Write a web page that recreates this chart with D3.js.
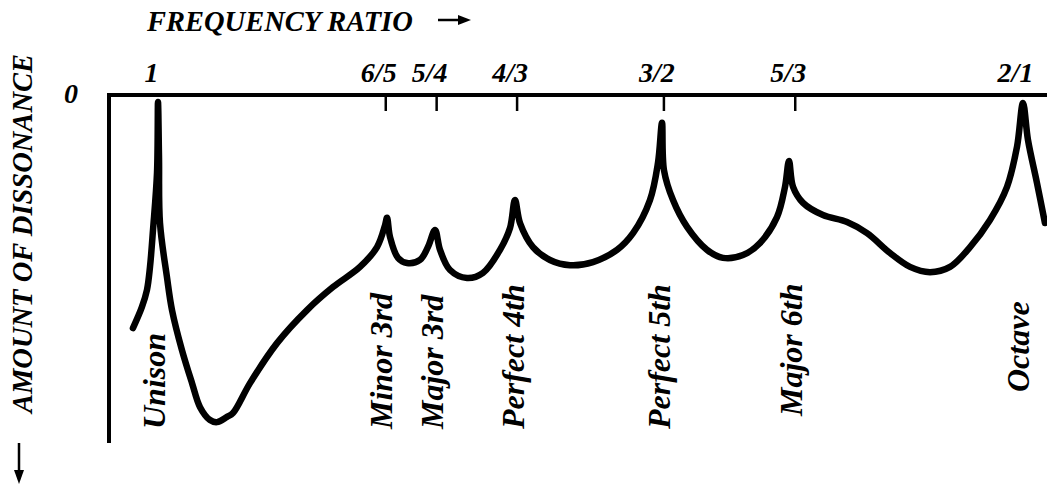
<!DOCTYPE html>
<html>
<head>
<meta charset="utf-8">
<script src="https://cdn.jsdelivr.net/npm/d3@7"></script>
</head>
<body style="margin:0;padding:0;background:#fff">
<svg id="chart" width="1047" height="496" style="display:block;background:#fff"></svg>
<script>
// ---- data ----
const tickRatios = [1, 6/5, 5/4, 4/3, 3/2, 5/3, 2];
const tickLabels = ["1", "6/5", "5/4", "4/3", "3/2", "5/3", "2/1"];
const intervalNames = ["Unison", "Minor 3rd", "Major 3rd", "Perfect 4th", "Perfect 5th", "Major 6th", "Octave"];
const intervalRatios = [1, 6/5, 5/4, 4/3, 3/2, 5/3, 2];

// frequency ratio along the drawn curve
const curveRatio = [
  0.9801, 0.9872, 0.9912, 0.9936, 0.9960, 0.9992, 1.0000, 1.0008, 1.0016, 1.0072,
  1.0113, 1.0194, 1.0277, 1.0343, 1.0426, 1.0485, 1.0569, 1.0620, 1.0766, 1.1002,
  1.1270, 1.1507, 1.1759, 1.1921, 1.1998, 1.2017, 1.2046, 1.2123, 1.2211, 1.2339,
  1.2418, 1.2489, 1.2539, 1.2640, 1.2813, 1.2979, 1.3157, 1.3263, 1.3316, 1.3370,
  1.3510, 1.3695, 1.3917, 1.4176, 1.4452, 1.4639, 1.4839, 1.4935, 1.4983, 1.5007,
  1.5116, 1.5287, 1.5534, 1.5734, 1.5989, 1.6209, 1.6431, 1.6537, 1.6590, 1.6644,
  1.6778, 1.7049, 1.7381, 1.7662, 1.7991, 1.8282, 1.8577, 1.8878, 1.9183, 1.9493,
  1.9761, 1.9920, 2.0016, 2.0096, 2.0242, 2.0372
];
// amount of dissonance (0 = axis, grows downward)
const curveDissonance = [
  67.0, 60.9, 56.0, 49.4, 38.8, 22.4, 2.0, 17.8, 36.8, 52.3,
  61.8, 73.3, 82.8, 89.7, 93.4, 94.0, 92.5, 91.4, 82.8, 71.3,
  61.8, 55.2, 49.4, 43.7, 37.4, 35.3, 40.8, 46.8, 48.3, 47.4,
  43.7, 38.8, 44.5, 50.3, 52.6, 51.1, 44.5, 38.2, 30.2, 36.8,
  43.7, 47.4, 48.9, 48.0, 44.5, 39.7, 30.2, 19.5, 8.0, 21.6,
  30.2, 37.9, 44.5, 46.8, 46.0, 42.5, 35.1, 26.4, 19.0, 26.4,
  31.0, 34.5, 36.5, 39.7, 45.4, 49.4, 50.9, 49.4, 43.7, 35.9,
  26.4, 14.9, 2.3, 12.9, 25.3, 36.8
];

// ---- layout ----
const FONT = '"Liberation Serif", "Times New Roman", Times, serif';
const svg = d3.select("#chart")
  .attr("font-family", FONT).attr("font-weight", "bold").attr("font-style", "italic");
const x = d3.scaleLog().domain([1, 2]).range([158, 1022]);
const y = d3.scaleLinear().domain([0, 100]).range([95, 443]);
const axisLeftX = 109;

function styleText(sel, size) {
  return sel.attr("font-family", FONT).attr("font-weight", "bold")
    .attr("font-style", "italic").attr("font-size", size).attr("fill", "#000");
}

// axes lines
svg.append("line").attr("x1", axisLeftX - 2).attr("x2", 1047)
  .attr("y1", y(0)).attr("y2", y(0)).attr("stroke", "#000").attr("stroke-width", 4);
svg.append("line").attr("x1", axisLeftX).attr("x2", axisLeftX)
  .attr("y1", y(0)).attr("y2", y(100)).attr("stroke", "#000").attr("stroke-width", 4);

// ticks + labels via d3 axis
const axis = d3.axisTop(x)
  .tickValues(tickRatios)
  .tickFormat((d, i) => tickLabels[i])
  .tickSizeInner(-16)
  .tickSizeOuter(0)
  .tickPadding(13);
const gAxis = svg.append("g").attr("transform", `translate(0,${y(0)})`).call(axis);
gAxis.attr("font-family", FONT).attr("font-size", 28);
gAxis.select(".domain").remove();
gAxis.selectAll(".tick line")
  .attr("stroke", "#000").attr("stroke-width", 2.5)
  .attr("y1", 2)
  .style("display", (d, i) => (i === 0 || i === tickRatios.length - 1) ? "none" : null);
styleText(gAxis.selectAll(".tick text"), 28).attr("dx", -7);

// "0" label on the dissonance axis
styleText(svg.append("text"), 28).attr("x", 71).attr("y", y(0) + 8)
  .attr("text-anchor", "middle").text("0");

// axis titles
styleText(svg.append("text"), 28.5).attr("x", 147).attr("y", 31).text("FREQUENCY RATIO");
svg.append("line").attr("x1", 438).attr("x2", 462).attr("y1", 20).attr("y2", 20)
  .attr("stroke", "#000").attr("stroke-width", 2.5);
svg.append("path").attr("d", "M458,15 L471,20 L458,25 Z").attr("fill", "#000");

styleText(svg.append("text"), 28.5).attr("transform", "translate(32,413) rotate(-90)")
  .text("AMOUNT OF DISSONANCE");
svg.append("line").attr("x1", 19).attr("x2", 19).attr("y1", 443).attr("y2", 474)
  .attr("stroke", "#000").attr("stroke-width", 2.5);
svg.append("path").attr("d", "M14,470 L19,484 L24,470 Z").attr("fill", "#000");

// dissonance curve
const pts = curveRatio.map((r, i) => [r, curveDissonance[i]]);
const line = d3.line().x(d => x(d[0])).y(d => y(d[1])).curve(d3.curveCatmullRom.alpha(0.5));
svg.append("path").attr("d", line(pts)).attr("fill", "none")
  .attr("stroke", "#000").attr("stroke-width", 6.5)
  .attr("stroke-linejoin", "round").attr("stroke-linecap", "round");

// interval names (rotated)
const labelBottom = {"Major 6th": 416, "Octave": 392};
styleText(svg.append("g").selectAll("text").data(intervalNames).join("text"), 32)
  .attr("transform", (d, i) => `translate(${x(intervalRatios[i]) + 7},${labelBottom[d] || 429}) rotate(-90)`)
  .text(d => d);
</script>
</body>
</html>
